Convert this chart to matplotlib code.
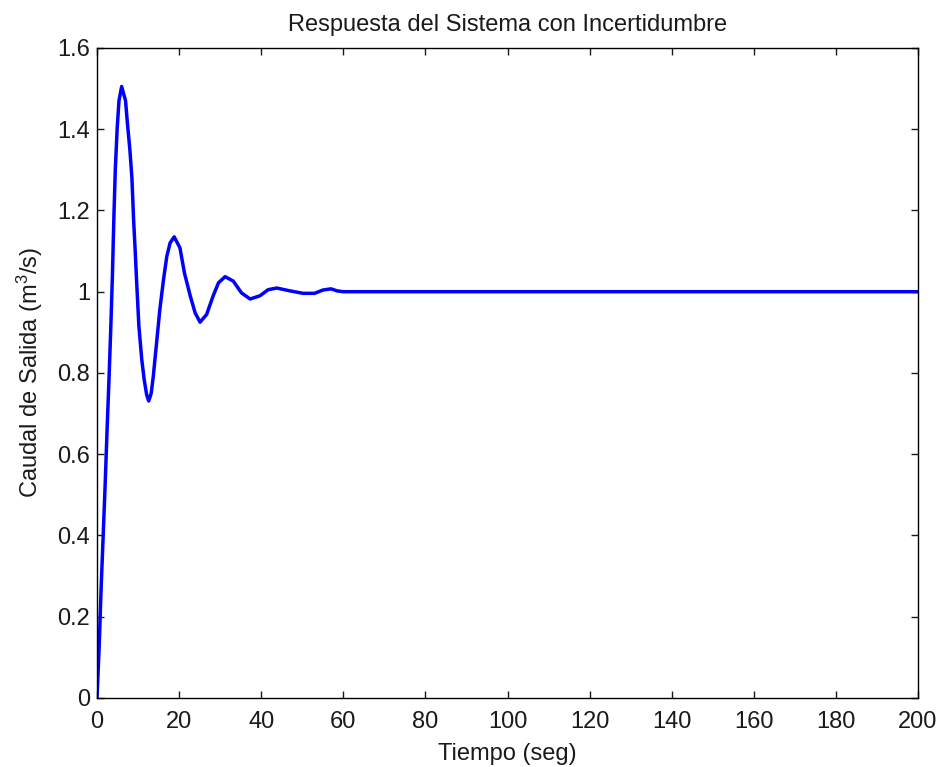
import matplotlib
matplotlib.use("Agg")
import matplotlib.pyplot as plt
from matplotlib.ticker import FormatStrFormatter, MultipleLocator

plt.rcParams["font.family"] = ["Liberation Sans Narrow", "Liberation Sans", "DejaVu Sans"]
plt.rcParams["mathtext.default"] = "regular"

# step response with uncertainty, sampled off the simulation trace
t = [0, 0.5, 1.0, 1.5, 2.0, 2.45, 2.9, 3.35, 3.75, 4.1, 4.45, 4.9, 5.35,
     6.0, 6.95, 7.4, 8.0, 8.5, 8.9, 9.3, 9.7, 10.2, 10.9, 11.5, 12.1, 12.6,
     13.2, 13.7, 14.5, 15.3, 16.2, 17.0, 17.8, 18.8, 20.2, 21.3, 22.7, 23.9,
     25.1, 26.7, 28.3, 29.6, 31.2, 33.2, 35.2, 37.3, 39.7, 41.7, 43.8, 47.0,
     50.2, 53.0, 55.0, 57.0, 58.5, 60.0, 200.0]
y = [0, 0.12, 0.27, 0.40, 0.53, 0.66, 0.78, 0.91, 1.04, 1.18, 1.30, 1.40, 1.47,
     1.505, 1.47, 1.415, 1.35, 1.28, 1.18, 1.10, 1.015, 0.915, 0.833, 0.783, 0.746, 0.731,
     0.750, 0.791, 0.873, 0.956, 1.030, 1.087, 1.120, 1.135, 1.108, 1.046, 0.990, 0.948,
     0.925, 0.944, 0.990, 1.022, 1.037, 1.026, 0.997, 0.982, 0.990, 1.005, 1.009, 1.002,
     0.996, 0.996, 1.004, 1.007, 1.002, 1.0, 1.0]

fig = plt.figure(figsize=(9.41, 7.67), dpi=100)
ax = fig.add_axes([0.1031, 0.09, 0.8725, 0.8475])

ax.plot(t, y, color="#0000ff", lw=2.5)

ax.set_xlim(0, 200)
ax.set_ylim(0, 1.6)
ax.xaxis.set_major_locator(MultipleLocator(20))
ax.yaxis.set_major_locator(MultipleLocator(0.2))
ax.yaxis.set_major_formatter(FormatStrFormatter("%g"))
ax.tick_params(direction="in", length=5, width=1, top=True, right=True,
               labelsize=17, pad=5, colors="#1a1a1a")
ax.tick_params(axis="x", pad=9.5)
for s in ax.spines.values():
    s.set_linewidth(1)

ax.set_title("Respuesta del Sistema con Incertidumbre", fontsize=17, pad=12, color="#1a1a1a")
ax.set_xlabel("Tiempo (seg)", fontsize=17, labelpad=7, color="#1a1a1a")
ax.set_ylabel("Caudal de Salida (m$^3$/s)", fontsize=17, labelpad=9, color="#1a1a1a")

fig.savefig("out.png", dpi=100, facecolor="white")
